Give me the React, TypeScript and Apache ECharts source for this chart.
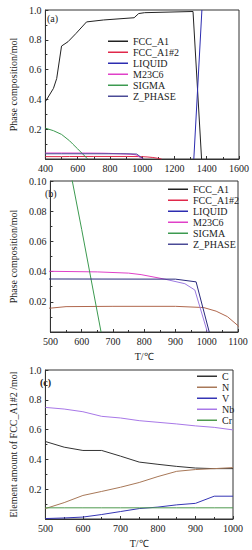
import React, { useEffect, useRef } from "react";
import * as echarts from "echarts";

// ---- Panel (a)/(b): phase composition vs temperature ----
const fccA1T = [400, 450, 470, 500, 540, 590, 655, 760, 950, 978, 1015, 1315, 1368];
const fccA1V = [0.385, 0.474, 0.54, 0.758, 0.787, 0.843, 0.92, 0.933, 0.948, 0.976, 0.982, 0.99, 0];

const fccA12T = [400, 500, 550, 700, 900, 990, 1030, 1066, 1100, 1120];
const fccA12V = [0.016, 0.0158, 0.0168, 0.017, 0.017, 0.0162, 0.0138, 0.0102, 0.0042, 0];

const liquidT = [1320, 1370];
const liquidV = [0, 1.0];

const m23c6T = [400, 500, 650, 750, 790, 866, 930, 962, 1002];
const m23c6V = [0.0402, 0.0402, 0.0398, 0.039, 0.038, 0.035, 0.032, 0.0278, 0];

const zPhaseT = [400, 500, 900, 966, 1008];
const zPhaseV = [0.035, 0.0351, 0.035, 0.0332, 0];

const sigmaT = [400, 450, 500, 550, 570, 600, 630, 662];
const sigmaV = [0.207, 0.19, 0.165, 0.122, 0.1, 0.068, 0.035, 0];

const phaseNames = ["FCC_A1", "FCC_A1#2", "LIQUID", "M23C6", "SIGMA", "Z_PHASE"];

// ---- Panel (c): element amount of FCC_A1#2 ----
const cT = [500, 550, 600, 650, 700, 750, 800, 850, 900, 950, 1000];
const elC = [0.52, 0.482, 0.46, 0.46, 0.422, 0.382, 0.367, 0.353, 0.342, 0.338, 0.338];
const elN = [0.07, 0.11, 0.158, 0.185, 0.213, 0.245, 0.285, 0.32, 0.332, 0.338, 0.345];
const elV = [0.003, 0.007, 0.013, 0.03, 0.05, 0.07, 0.08, 0.095, 0.105, 0.153, 0.153];
const elNb = [0.749, 0.738, 0.72, 0.689, 0.678, 0.66, 0.649, 0.638, 0.625, 0.615, 0.598];
const elCr = [0.075, 0.075, 0.075, 0.075, 0.075, 0.075, 0.075, 0.075, 0.075, 0.075, 0.075];
const elementNames = ["C", "N", "V", "Nb", "Cr"];

const FONT = "Liberation Serif";

const zip = (xs: number[], ys: number[]) => xs.map((x, i) => [x, ys[i]]);

const COL = {
  FCC_A1: "#222222",
  "FCC_A1#2": "#e0284a",
  LIQUID: "#2c2cb0",
  M23C6: "#e040c8",
  SIGMA: "#3c9a50",
  Z_PHASE: "#4a4a96",
};

export default function App() {
  const ref = useRef<HTMLDivElement>(null);
  useEffect(() => {
    if (!ref.current) return;
    const chart = echarts.init(ref.current, null, { renderer: "svg" });
    const axisLabel = { fontFamily: FONT, fontSize: 10, color: "#222", margin: 4 };
    const axisLine = { show: true, lineStyle: { color: "#333", width: 1 } };
    const axisTick = { show: true, inside: true, length: 3, lineStyle: { color: "#333" } };
    const minorTick = { show: true, splitNumber: 2, length: 2, lineStyle: { color: "#333" } };
    const nameTextStyle = { fontFamily: FONT, fontSize: 10, color: "#222" };

    const mkX = (gi: number, min: number, max: number, interval: number, name: string) => ({
      type: "value",
      gridIndex: gi,
      min,
      max,
      interval,
      name,
      nameLocation: "middle",
      nameGap: 19,
      nameTextStyle,
      axisLabel: { ...axisLabel, formatter: (v: number) => String(Math.round(v)) },
      axisLine,
      axisTick,
      minorTick,
      splitLine: { show: false },
    });
    const mkY = (gi: number, max: number, interval: number, dec: number, name: string, gap: number) => ({
      type: "value",
      gridIndex: gi,
      min: 0,
      max,
      interval,
      name,
      nameLocation: "middle",
      nameGap: gap,
      nameTextStyle,
      axisLabel: {
        ...axisLabel,
        formatter: (v: number) => (Math.abs(v) < 1e-9 ? "" : v.toFixed(dec)),
      },
      axisLine,
      axisTick,
      minorTick,
      splitLine: { show: false },
    });

    const line = (name: string, data: number[][], gi: number, color: any) => ({
      type: "line",
      name,
      xAxisIndex: gi,
      yAxisIndex: gi,
      data,
      symbol: "none",
      lineStyle: { color, width: 1 },
      itemStyle: { color },
      clip: true,
    });

    const phaseData: Record<string, number[][]> = {
      FCC_A1: zip(fccA1T, fccA1V),
      "FCC_A1#2": zip(fccA12T, fccA12V),
      LIQUID: zip(liquidT, liquidV),
      M23C6: zip(m23c6T, m23c6V),
      SIGMA: zip(sigmaT, sigmaV),
      Z_PHASE: zip(zPhaseT, zPhaseV),
    };

    const seriesA = phaseNames.map((n) => line(n, phaseData[n], 0, (COL as any)[n]));
    const bColors: Record<string, any> = {
      ...COL,
      "FCC_A1#2": "#b0684e",
      M23C6: new echarts.graphic.LinearGradient(0, 0, 1, 0, [
        { offset: 0, color: "#e040c8" },
        { offset: 0.74, color: "#e040c8" },
        { offset: 0.8, color: "#9a78e0" },
        { offset: 1, color: "#9a78e0" },
      ]),
      Z_PHASE: "#2a2a7c",
    };
    const seriesB = phaseNames.map((n) => line(n, phaseData[n], 1, bColors[n]));

    const elColors: Record<string, string> = {
      C: "#333333",
      N: "#a87858",
      V: "#3535b5",
      Nb: "#a878e8",
      Cr: "#4e9a4e",
    };
    const elData: Record<string, number[]> = { C: elC, N: elN, V: elV, Nb: elNb, Cr: elCr };
    const seriesC = elementNames.map((n) => line(n, zip(cT, elData[n]), 2, elColors[n]));

    const legendBase = {
      orient: "vertical",
      icon: "rect",
      itemWidth: 20,
      itemHeight: 1.5,
      itemGap: 0.5,
      padding: 0,
      selectedMode: false,
      textStyle: { fontFamily: FONT, fontSize: 10, color: "#222", lineHeight: 10.5 },
    };

    const label = (text: string, x: number, y: number, bold = false) => ({
      type: "text",
      x,
      y,
      style: {
        text,
        fontFamily: FONT,
        fontSize: 10,
        fontWeight: bold ? "bold" : "normal",
        fill: "#222",
        textAlign: "left",
        textVerticalAlign: "middle",
      },
    });

    chart.setOption({
      animation: false,
      grid: [
        { left: 38, top: 10, width: 204, height: 149, show: true, borderColor: "#333", borderWidth: 1, backgroundColor: "transparent" },
        { left: 38, top: 181, width: 200, height: 151, show: true, borderColor: "#333", borderWidth: 1, backgroundColor: "transparent" },
        { left: 32, top: 370, width: 201, height: 149, show: true, borderColor: "#333", borderWidth: 1, backgroundColor: "transparent" },
      ],
      xAxis: [
        mkX(0, 400, 1600, 200, ""),
        mkX(1, 500, 1100, 100, "T/℃"),
        mkX(2, 500, 1000, 100, "T/℃"),
      ],
      yAxis: [
        mkY(0, 1.0, 0.2, 1, "Phase composition/mol", 25),
        mkY(1, 0.1, 0.02, 2, "Phase composition/mol", 25),
        mkY(2, 1.0, 0.2, 1, "Element amount of FCC_A1#2 /mol", 19),
      ],
      legend: [
        { ...legendBase, left: 108, top: 36, data: phaseNames },
        { ...legendBase, left: 168, top: 184, data: phaseNames },
        { ...legendBase, left: 197, top: 371, data: elementNames },
      ],
      graphic: [
        label("(a)", 47, 18),
        label("(b)", 45, 193),
        label("(c)", 40, 382, true),
      ],
      series: [...seriesA, ...seriesB, ...seriesC],
    });
    return () => chart.dispose();
  }, []);
  return <div ref={ref} style={{ position: "absolute", left: 0, top: 0, width: 252, height: 550 }} />;
}
